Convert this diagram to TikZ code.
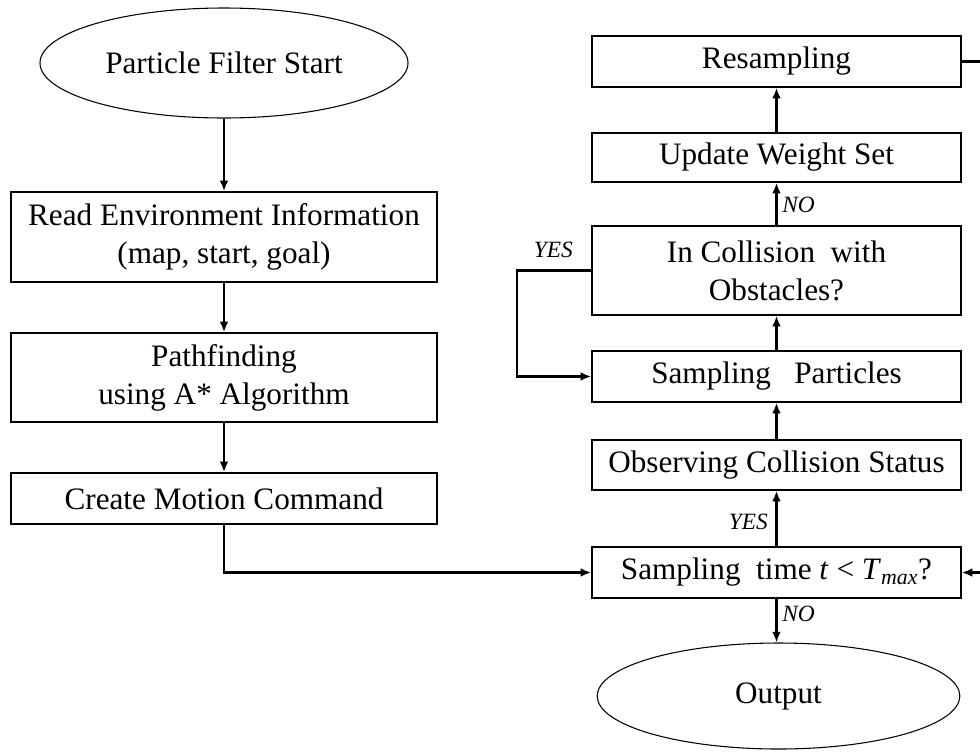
\documentclass[tikz,border=0pt]{standalone}
\usepackage{fontspec}
\setmainfont{Liberation Serif}
\usetikzlibrary{shapes.geometric,arrows.meta}
\begin{document}
\begin{tikzpicture}[x=0.75pt,y=-0.75pt,
  box/.style={draw,line width=1.1pt,rectangle,inner sep=0pt,align=center,
    font=\fontsize{23.4}{28.5}\selectfont},
  lbox/.style={box,minimum width=319.5pt},
  rbox/.style={box,minimum width=276.75pt},
  oval/.style={draw,line width=0.8pt,ellipse,inner sep=0pt,
    font=\fontsize{23.4}{28.5}\selectfont},
  conn/.style={line width=1.6pt,-{Latex[length=8pt,width=6.5pt]}},
  lab/.style={font=\fontsize{17.5}{20}\selectfont\itshape,inner sep=0pt}]
\useasboundingbox (0,0) rectangle (980,751);

% left column
\node[oval,minimum width=276pt,minimum height=82.5pt] (start) at (224,63) {Particle Filter Start};
\node[lbox,minimum height=67.5pt] (read) at (224,237) {Read Environment Information\\(map, start, goal)};
\node[lbox,minimum height=66.75pt] (path) at (224,377.5) {Pathfinding\\using A* Algorithm};
\node[lbox,minimum height=38.25pt] (cmd) at (224,498.5) {Create Motion Command};

% right column
\node[rbox,minimum height=38.25pt] (resamp) at (776.5,61.5) {Resampling};
\node[rbox,minimum height=36.75pt] (upd) at (776.5,157.5) {Update Weight Set};
\node[rbox,minimum height=66.75pt] (coll) at (776.5,270.5) {In Collision~~with\\Obstacles?};
\node[rbox,minimum height=38.25pt] (samp) at (776.5,376.5) {Sampling~~~Particles};
\node[rbox,minimum height=37.5pt] (obs) at (776.5,465) {Observing Collision Status};
\node[rbox,minimum height=38.25pt] (stime) at (776.5,572.5) {Sampling~~time \textit{t} < \textit{T}\textsubscript{\textit{max}}?};
\node[oval,minimum width=272pt,minimum height=79.5pt] (out) at (778.5,696) {Output};

% labels
\node[lab,anchor=west] (no1) at (782,205) {NO};
\node[lab,anchor=east] (yes1) at (573,250) {YES};
\node[lab,anchor=east] (yes2) at (768,522) {YES};
\node[lab,anchor=west] (no2) at (782,614) {NO};

% helper coordinates
\coordinate (yl) at (517,0);
\coordinate (fb) at (1000,0);

% connectors
\draw[conn] (start.south) -- (read.north);
\draw[conn] (read.south) -- (path.north);
\draw[conn] (path.south) -- (cmd.north);
\draw[conn] (cmd.south) |- (stime.west);
\draw[conn] (stime.north) -- (obs.south);
\draw[conn] (obs.north) -- (samp.south);
\draw[conn] (samp.north) -- (coll.south);
\draw[conn] (coll.north) -- (upd.south);
\draw[conn] (upd.north) -- (resamp.south);
\draw[conn] (coll.west) -- (coll.west -| yl) |- (samp.west);
\draw[conn] (stime.south) -- (stime.south |- out.north);
\draw[conn] (resamp.east) -- (resamp.east -| fb) |- (stime.east);
\end{tikzpicture}
\end{document}
